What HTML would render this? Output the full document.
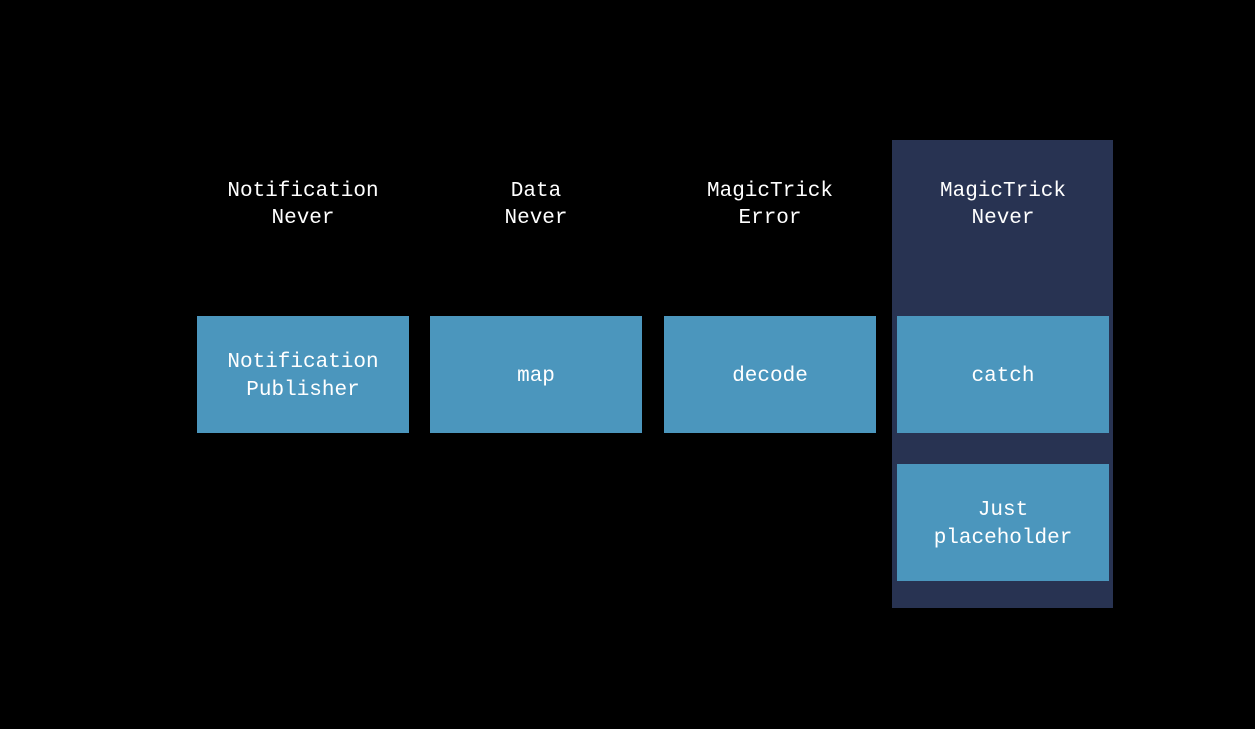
<!DOCTYPE html>
<html><head><style>
body{margin:0;width:1255px;height:729px;background:#000;position:relative;overflow:hidden;font-family:"Liberation Mono",monospace;color:#fff;font-size:21px;}
.panel{position:absolute;left:892px;top:140px;width:221px;height:468px;background:#283352;}
.b{position:absolute;width:212px;height:117px;background:#4b96bd;display:flex;align-items:center;justify-content:center;text-align:center;line-height:28px;padding-top:4px;box-sizing:border-box;}
.h{position:absolute;width:212px;top:178px;text-align:center;line-height:27px;}
</style></head><body>
<div class="panel"></div>
<div class="h" style="left:197px">Notification<br>Never</div>
<div class="h" style="left:430px">Data<br>Never</div>
<div class="h" style="left:664px">MagicTrick<br>Error</div>
<div class="h" style="left:897px">MagicTrick<br>Never</div>
<div class="b" style="left:197px;top:316px">Notification<br>Publisher</div>
<div class="b" style="left:430px;top:316px">map</div>
<div class="b" style="left:664px;top:316px">decode</div>
<div class="b" style="left:897px;top:316px">catch</div>
<div class="b" style="left:897px;top:464px">Just<br>placeholder</div>
</body></html>
